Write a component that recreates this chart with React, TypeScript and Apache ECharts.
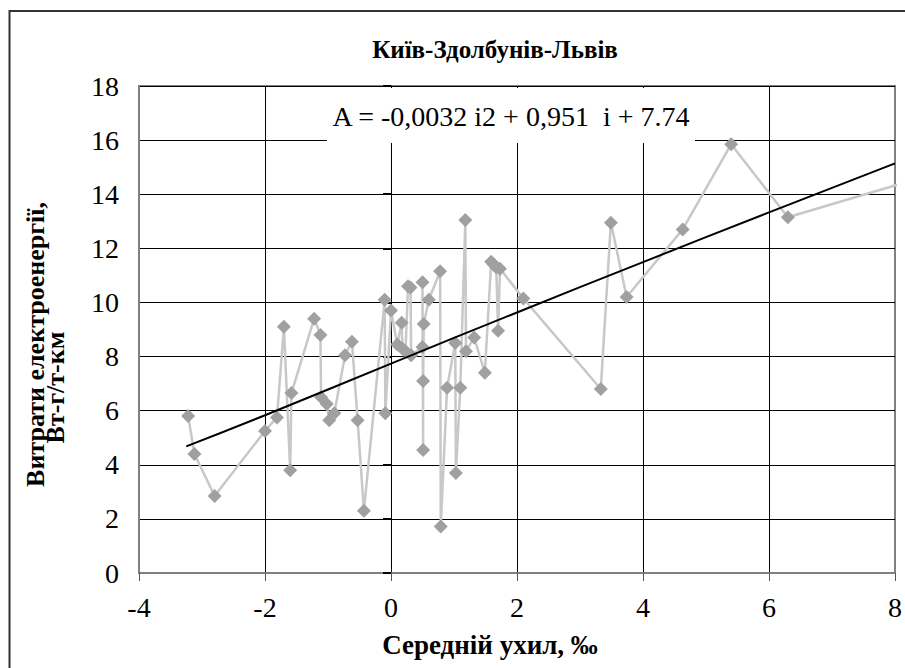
import React, { useEffect, useRef } from "react";
import * as echarts from "echarts";

// Середній ухил, ‰ (x) and Витрати електроенергії (y), in drawing order
const slopeX = [
  -3.22, -3.12, -2.8, -2.0, -1.81, -1.7, -1.6, -1.58, -1.22, -1.12, -1.11, -1.02, -0.98, -0.9,
  -0.73, -0.62, -0.53, -0.43, -0.1, -0.09, 0.0, 0.1, 0.17, 0.18, 0.23, 0.27, 0.31, 0.32, 0.5,
  0.5, 0.51, 0.51, 0.52, 0.6, 0.78, 0.79, 0.89, 1.02, 1.03, 1.1, 1.18, 1.19, 1.32, 1.49, 1.59,
  1.63, 1.67, 1.7, 1.73, 2.1, 3.33, 3.49, 3.74, 4.63, 5.4, 6.3, 9.2,
];
const energyY = [
  5.8, 4.4, 2.85, 5.25, 5.75, 9.1, 3.8, 6.65, 9.4, 8.8, 6.5, 6.25, 5.65, 5.9,
  8.05, 8.55, 5.65, 2.3, 10.1, 5.9, 9.7, 8.45, 9.25, 8.3, 8.2, 10.6, 10.55, 8.05, 8.35,
  10.75, 4.55, 7.1, 9.2, 10.1, 11.15, 1.72, 6.85, 8.5, 3.7, 6.85, 13.05, 8.2, 8.7, 7.4, 11.5,
  11.4, 11.3, 8.95, 11.25, 10.15, 6.8, 12.95, 10.2, 12.7, 15.85, 13.15, 15.15,
];

// Trend line
const trendX = [-3.25, -2, 0, 2, 4, 6, 8];
const trendY = [4.68, 5.83, 7.74, 9.63, 11.49, 13.33, 15.14];

const xTicks = { min: -4, max: 8, interval: 2 };
const yTicks = { min: 0, max: 18, interval: 2 };

const titleText = "Київ-Здолбунів-Львів";
const xName = "Середній ухил, ‰";
const yNameLine1 = "Витрати електроенергії,";
const yNameLine2 = "Вт-г/т-км";
const equationText = "A = -0,0032 i2 + 0,951  i + 7.74";

const FONT = "Liberation Serif";

export default function App() {
  const ref = useRef<HTMLDivElement>(null);

  useEffect(() => {
    if (!ref.current) return;
    const chart = echarts.init(ref.current, undefined, { renderer: "svg" });

    const points = slopeX.map((x, i) => [x, energyY[i]]);
    const trend = trendX.map((x, i) => [x, trendY[i]]);

    const option: any = {
      animation: false,
      backgroundColor: "#ffffff",
      textStyle: { fontFamily: FONT },
      title: {
        text: titleText,
        left: 490,
        textAlign: "center",
        top: 32,
        textStyle: { fontFamily: FONT, fontWeight: "bold", fontSize: 25, color: "#000" },
      },
      grid: {
        left: 139,
        top: 86,
        width: 756,
        height: 487,
        show: true,
        borderColor: "#808080",
        borderWidth: 2,
        backgroundColor: "transparent",
      },
      xAxis: {
        type: "value",
        min: xTicks.min,
        max: xTicks.max,
        interval: xTicks.interval,
        axisLine: { onZero: false, lineStyle: { color: "#808080", width: 2 } },
        axisTick: { show: true, length: 8, lineStyle: { color: "#555", width: 1 } },
        axisLabel: { fontFamily: FONT, fontSize: 28, color: "#000", margin: 20 },
        splitLine: {
          show: true,
          showMinLine: false,
          showMaxLine: false,
          lineStyle: { color: "#000", width: 1 },
        },
        name: xName,
        nameLocation: "middle",
        nameGap: 58,
        nameTextStyle: {
          fontFamily: FONT,
          fontWeight: "bold",
          fontSize: 27,
          color: "#000",
          padding: [0, 54, 0, 0],
        },
      },
      yAxis: [
        {
          type: "value",
          min: yTicks.min,
          max: yTicks.max,
          interval: yTicks.interval,
          axisLine: { show: true, onZero: false, lineStyle: { color: "#808080", width: 2 } },
          axisTick: { show: false },
          axisLabel: { fontFamily: FONT, fontSize: 28, color: "#000", margin: 20 },
          splitLine: {
            show: true,
            showMinLine: false,
            showMaxLine: true,
            lineStyle: { color: "#000", width: 1 },
          },
          name: "{a|" + yNameLine1 + "}\n{b|" + yNameLine2 + "}",
          nameLocation: "middle",
          nameRotate: 90,
          nameGap: 74,
          nameTextStyle: {
            fontFamily: FONT,
            fontWeight: "bold",
            fontSize: 26,
            color: "#000",
            rich: {
              a: {
                fontFamily: FONT,
                fontWeight: "bold",
                fontSize: 26,
                color: "#000",
                lineHeight: 20,
                padding: [0, 30, 0, 0],
              },
              b: {
                fontFamily: FONT,
                fontWeight: "bold",
                fontSize: 26,
                color: "#000",
                lineHeight: 20,
                padding: [0, 116, 0, 0],
              },
            },
          },
        },
        {
          type: "value",
          min: yTicks.min,
          max: yTicks.max,
          interval: yTicks.interval,
          position: "left",
          axisLine: { show: true, onZero: true, lineStyle: { color: "#000", width: 1 } },
          axisTick: { show: true, length: 8, lineStyle: { color: "#000", width: 2 } },
          axisLabel: { show: false },
          splitLine: { show: false },
        },
      ],
      graphic: [
        {
          type: "rect",
          z: -10,
          silent: true,
          shape: { x: 9.5, y: 11, width: 1200, height: 1200 },
          style: { fill: "none", stroke: "#333", lineWidth: 2 },
        },
        {
          type: "rect",
          z: 50,
          silent: true,
          shape: { x: 327, y: 88, width: 368, height: 55 },
          style: { fill: "#fff" },
        },
        {
          type: "text",
          z: 51,
          silent: true,
          x: 511,
          y: 116,
          style: {
            text: equationText,
            fontFamily: FONT,
            fontSize: 28,
            fill: "#000",
            textAlign: "center",
            textVerticalAlign: "middle",
          },
        },
      ],
      series: [
        {
          name: "data",
          type: "line",
          xAxisIndex: 0,
          yAxisIndex: 0,
          data: points,
          clip: false,
          symbol: "diamond",
          symbolSize: 14,
          showAllSymbol: true,
          lineStyle: { color: "#c8c8c8", width: 2.5 },
          itemStyle: { color: "#a0a0a0" },
          z: 3,
        },
        {
          name: "trend",
          type: "line",
          xAxisIndex: 0,
          yAxisIndex: 0,
          data: trend,
          clip: true,
          symbol: "none",
          smooth: true,
          lineStyle: { color: "#000", width: 2 },
          z: 4,
        },
      ],
    };

    chart.setOption(option);
    return () => chart.dispose();
  }, []);

  return (
    <div
      ref={ref}
      style={{ position: "absolute", left: 0, top: 0, width: 905, height: 668 }}
    />
  );
}
